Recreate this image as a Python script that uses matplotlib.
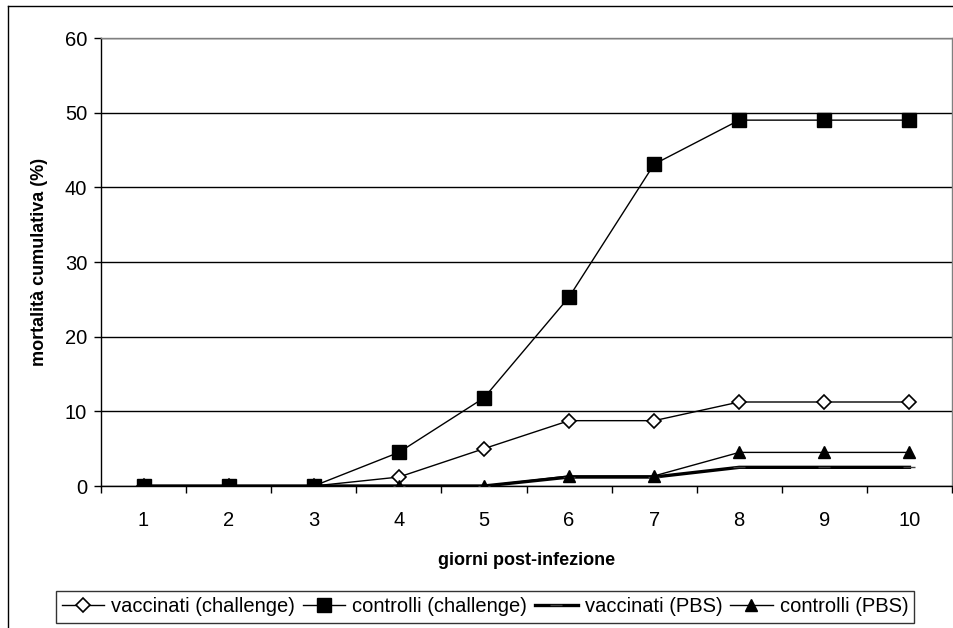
import matplotlib
matplotlib.use("Agg")
import matplotlib.pyplot as plt
from matplotlib.lines import Line2D

days = [1, 2, 3, 4, 5, 6, 7, 8, 9, 10]
vacc_chall = [0, 0, 0, 1.2, 5.0, 8.75, 8.75, 11.25, 11.25, 11.25]
ctrl_chall = [0, 0, 0, 4.5, 11.8, 25.3, 43.1, 49.0, 49.0, 49.0]
vacc_pbs = [0, 0, 0, 0, 0, 1.2, 1.2, 2.5, 2.5, 2.5]
ctrl_pbs = [0, 0, 0, 0, 0, 1.35, 1.35, 4.5, 4.5, 4.5]
labels = ["vaccinati (challenge)", "controlli (challenge)", "vaccinati (PBS)", "controlli (PBS)"]
yticks = [0, 10, 20, 30, 40, 50, 60]

plt.rcParams['font.family'] = ['Liberation Sans', 'DejaVu Sans']

W, H = 954, 628
fig = plt.figure(figsize=(W / 100, H / 100), dpi=100)
ax = fig.add_axes([101 / W, 1 - 486 / H, (952 - 101) / W, (486 - 38) / H])

x = list(range(len(days)))
ax.plot(x, vacc_chall, color='black', lw=1, marker='D', ms=7, mfc='white', mec='black', mew=1.2, label=labels[0], zorder=4)
ax.plot(x, ctrl_chall, color='black', lw=1, marker='s', ms=10.5, mfc='black', mec='black', label=labels[1], zorder=4)
ax.plot(x, vacc_pbs, color='black', lw=2.4, marker='_', ms=8, mec='#404040', label=labels[2], zorder=3)
ax.plot(x, ctrl_pbs, color='black', lw=1, marker='^', ms=8, mfc='black', mec='black', label=labels[3], zorder=4)

ax.set_xlim(-0.5, len(days) - 0.5)
ax.set_ylim(0, 60)
ax.set_yticks(yticks)
ax.set_yticklabels([str(v) for v in yticks], fontsize=14.5)
ax.set_xticks(x)
ax.set_xticklabels([str(d) for d in days], fontsize=14.5)
ax.set_xticks([i - 0.5 for i in range(len(days) + 1)], minor=True)
ax.tick_params(axis='x', which='major', length=0, pad=18)
ax.tick_params(axis='x', which='minor', length=5, width=1, direction='out')
ax.tick_params(axis='y', length=5, width=1, direction='out', pad=5)
ax.yaxis.grid(True, color='black', lw=1)
ax.set_axisbelow(True)
for s in ax.spines.values():
    s.set_color('black')
    s.set_linewidth(1)
ax.spines['top'].set_color('#808080')
ax.spines['right'].set_color('#808080')

ax.set_xlabel("giorni post-infezione", fontsize=13, fontweight='bold', labelpad=16)
ax.set_ylabel("mortalità cumulativa (%)", fontsize=13, fontweight='bold', labelpad=12)

leg = fig.legend(loc='center', bbox_to_anchor=(485 / W, 1 - 607 / H), ncol=4, fontsize=14.5,
                 frameon=True, fancybox=False, edgecolor='black', handlelength=2.1,
                 handletextpad=0.35, columnspacing=0.4, borderpad=0.3, borderaxespad=0)
leg.get_frame().set_linewidth(1)

fig.add_artist(Line2D([8 / W, 8 / W], [0, 1 - 6 / H], transform=fig.transFigure, color='black', lw=1))
fig.add_artist(Line2D([8 / W, 1], [1 - 6 / H, 1 - 6 / H], transform=fig.transFigure, color='black', lw=1))

fig.savefig("out.png", dpi=100)
